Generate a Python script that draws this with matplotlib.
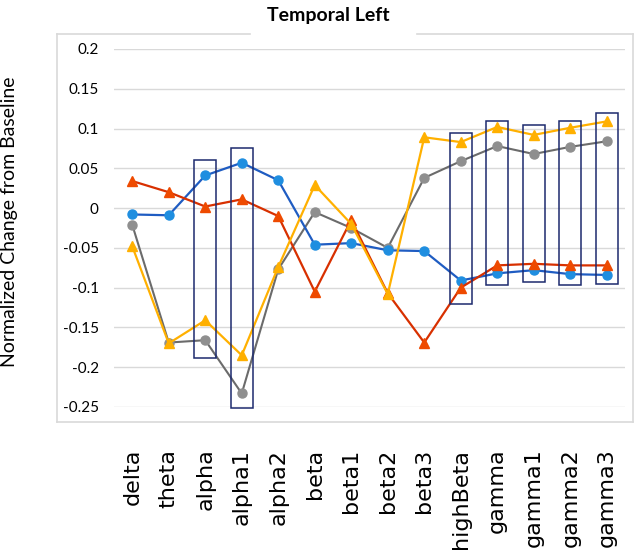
import matplotlib

matplotlib.use("Agg")
import matplotlib.pyplot as plt
from matplotlib.lines import Line2D
from matplotlib.patches import Rectangle

bands = ["delta", "theta", "alpha", "alpha1", "alpha2", "beta", "beta1",
         "beta2", "beta3", "highBeta", "gamma", "gamma1", "gamma2", "gamma3"]

blue = [-0.008, -0.009, 0.041, 0.057, 0.035, -0.046, -0.044,
        -0.053, -0.054, -0.091, -0.082, -0.078, -0.083, -0.084]
red = [0.034, 0.020, 0.002, 0.011, -0.010, -0.105, -0.015,
       -0.107, -0.169, -0.100, -0.072, -0.070, -0.072, -0.072]
yellow = [-0.048, -0.170, -0.141, -0.185, -0.074, 0.029, -0.020,
          -0.108, 0.089, 0.083, 0.102, 0.092, 0.101, 0.109]
gray = [-0.021, -0.169, -0.166, -0.233, -0.077, -0.005, -0.025,
        -0.050, 0.038, 0.059, 0.078, 0.068, 0.077, 0.084]

# highlighted bands: (band, top, bottom)
boxes_band = ["alpha", "alpha1", "highBeta", "gamma", "gamma1", "gamma2", "gamma3"]
boxes_top = [0.061, 0.076, 0.094, 0.110, 0.105, 0.110, 0.119]
boxes_bottom = [-0.189, -0.251, -0.121, -0.097, -0.093, -0.097, -0.096]

yticks = [0.2, 0.15, 0.1, 0.05, 0, -0.05, -0.1, -0.15, -0.2, -0.25]

W, H = 634, 554
fig = plt.figure(figsize=(W / 100, H / 100), dpi=100)
ax = fig.add_axes([114 / W, 1 - 407 / H, 511 / W, 358 / H])

x = list(range(len(bands)))
ax.plot(x, gray, color="#6b6b6b", lw=1.5, marker="o", ms=6.5,
        mfc="#8f8f8f", mec="#8f8f8f", zorder=3)
ax.plot(x, blue, color="#1f5cc2", lw=1.6, marker="o", ms=6.5,
        mfc="#1f8ee0", mec="#1f8ee0", zorder=4)
ax.plot(x, red, color="#d83000", lw=1.6, marker="^", ms=7,
        mfc="#ee4a00", mec="#ee4a00", zorder=5)
ax.plot(x, yellow, color="#ffb000", lw=1.6, marker="^", ms=7,
        mfc="#ffb000", mec="#ffb000", zorder=6)

for band, top, bot in zip(boxes_band, boxes_top, boxes_bottom):
    i = bands.index(band)
    ax.add_patch(Rectangle((i - 0.3, bot), 0.6, top - bot, fill=False,
                           edgecolor="#1c2a6e", lw=1.1, zorder=7, clip_on=False))

ax.set_xlim(-0.5, len(bands) - 0.5)
ax.set_ylim(-0.25, 0.2)
ax.set_yticks(yticks)
ax.set_yticklabels([f"{t:g}" for t in yticks], fontsize=11, family="Lato")
ax.set_xticks(x)
ax.set_xticklabels(bands, rotation=90, fontsize=16, family="DejaVu Sans")
ax.tick_params(axis="both", length=0, colors="#000000")
ax.tick_params(axis="y", pad=11)
ax.tick_params(axis="x", pad=30)
ax.grid(axis="y", color="#d9d9d9", lw=1)
ax.set_axisbelow(True)
for s in ax.spines.values():
    s.set_visible(False)

ax.set_ylabel("Normalized Change from Baseline", fontsize=14, family="Lato",
              labelpad=0)
ax.yaxis.set_label_coords(-96 / 511, 0.517)

# chart-area frame, with a gap behind the title
frame = dict(color="#d9d9d9", lw=1.2, transform=fig.transFigure)
x0, x1 = 57 / W, 633 / W
y0, y1 = 1 - 422 / H, 1 - 34 / H
fig.add_artist(Line2D([x0, x0], [y0, y1], **frame))
fig.add_artist(Line2D([x1, x1], [y0, y1], **frame))
fig.add_artist(Line2D([x0, x1], [y0, y0], **frame))
fig.add_artist(Line2D([x0, 250 / W], [y1, y1], **frame))
fig.add_artist(Line2D([417 / W, x1], [y1, y1], **frame))

fig.text(328 / W, 1 - 15 / H, "Temporal Left", ha="center", va="center",
         fontsize=14, fontweight="bold", family="Lato")

fig.savefig("out.png", dpi=100)
